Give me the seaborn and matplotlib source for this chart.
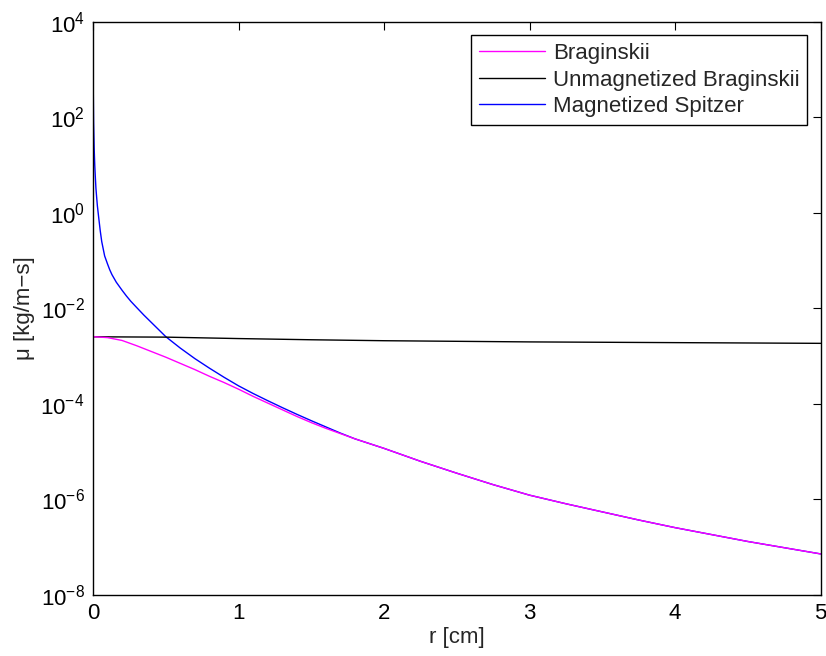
import matplotlib

matplotlib.use("Agg")
import matplotlib.pyplot as plt
import numpy as np
import pandas as pd
import seaborn as sns
from matplotlib.ticker import LogLocator, NullLocator

# values (r in cm, log10 of mu in kg/m-s)
brag_r = [0.0, 0.1, 0.2, 0.3, 0.4, 0.5, 0.6, 0.7, 0.8, 0.9, 1.0, 1.1, 1.2, 1.3,
          1.4, 1.5, 1.6, 1.7, 1.8, 1.9, 2.0, 2.25, 2.5, 2.75, 3.0, 3.25, 3.5,
          3.75, 4.0, 4.5, 5.0]
brag_log = [-2.59, -2.61, -2.67, -2.78, -2.90, -3.02, -3.15, -3.28, -3.42, -3.55,
            -3.69, -3.84, -3.98, -4.12, -4.26, -4.39, -4.51, -4.62, -4.73, -4.83,
            -4.93, -5.20, -5.45, -5.69, -5.91, -6.09, -6.26, -6.43, -6.59, -6.88,
            -7.14]

unmag_r = [0.0, 0.5, 1.0, 1.5, 2.0, 3.0, 4.0, 5.0]
unmag_log = [-2.593, -2.60, -2.63, -2.655, -2.675, -2.70, -2.715, -2.73]

spitz_r = [0.0005, 0.004, 0.008, 0.012, 0.016, 0.02, 0.025, 0.03, 0.04, 0.05,
           0.06, 0.08, 0.1, 0.115, 0.13, 0.16, 0.2, 0.23, 0.26, 0.3, 0.35, 0.4,
           0.45, 0.5, 0.6, 0.7, 0.8, 0.9, 1.0, 1.1, 1.2, 1.3, 1.4, 1.5, 1.6, 1.7,
           1.8, 1.9, 2.0, 2.25, 2.5, 2.75, 3.0, 3.25, 3.5, 3.75, 4.0, 4.5, 5.0]
spitz_log = [2.96, 1.90, 1.35, 1.00, 0.75, 0.52, 0.33, 0.15, -0.12, -0.38,
             -0.60, -0.90, -1.07, -1.19, -1.29, -1.45, -1.62, -1.74, -1.85, -1.98,
             -2.14, -2.29, -2.44, -2.59, -2.83, -3.05, -3.25, -3.44, -3.62, -3.78,
             -3.93, -4.075, -4.215, -4.35, -4.48, -4.61, -4.73, -4.83, -4.93, -5.20,
             -5.45, -5.69, -5.91, -6.09, -6.26, -6.43, -6.59, -6.88, -7.14]

labels = ["Braginskii", "Unmagnetized Braginskii", "Magnetized Spitzer"]
colors = ["#ff00ff", "#000000", "#0000ff"]

series = {
    labels[0]: pd.DataFrame({"r": brag_r, "mu": 10.0 ** np.array(brag_log)}),
    labels[1]: pd.DataFrame({"r": unmag_r, "mu": 10.0 ** np.array(unmag_log)}),
    labels[2]: pd.DataFrame({"r": spitz_r, "mu": 10.0 ** np.array(spitz_log)}),
}

sns.set_style("white")
plt.rcParams["font.family"] = ["Liberation Sans", "DejaVu Sans"]
plt.rcParams["mathtext.fontset"] = "custom"
plt.rcParams["mathtext.rm"] = "Liberation Sans"
plt.rcParams["mathtext.it"] = "Liberation Sans"
plt.rcParams["mathtext.default"] = "regular"
plt.rcParams["font.size"] = 16

fig = plt.figure(figsize=(8.26, 6.56), dpi=100)
ax = fig.add_axes([0.1126, 0.093, 0.881, 0.8735])

# Spitzer drawn first so the Braginskii curve sits on top where they overlap
for name in [labels[2], labels[1], labels[0]]:
    sns.lineplot(data=series[name], x="r", y="mu", color=colors[labels.index(name)],
                 label=name, estimator=None, sort=False, linewidth=1.0, ax=ax)

ax.set_yscale("log")
ax.set_xlim(0, 5)
ax.set_ylim(1e-8, 1e4)
ax.set_xticks([0, 1, 2, 3, 4, 5])
ax.yaxis.set_major_locator(LogLocator(base=100.0))
ax.yaxis.set_minor_locator(NullLocator())
ax.tick_params(direction="in", length=6, width=0.8, top=True, right=True,
               labelsize=16, colors="black", pad=6)
for s in ax.spines.values():
    s.set_color("black")
    s.set_linewidth(1.0)

ax.set_xlabel("r [cm]", fontsize=16, labelpad=2)
ax.set_ylabel("μ [kg/m−s]", fontsize=16, labelpad=4)

handles, names = ax.get_legend_handles_labels()
order = [names.index(n) for n in labels]
leg = ax.legend([handles[i] for i in order], [names[i] for i in order],
                loc="upper right", fontsize=16, frameon=True, fancybox=False,
                edgecolor="black", handlelength=3.0, handletextpad=0.35,
                borderaxespad=0.6, labelspacing=0.25, borderpad=0.35)
leg.get_frame().set_linewidth(1.0)
leg.get_frame().set_alpha(1)

fig.savefig("out.png", dpi=100)
